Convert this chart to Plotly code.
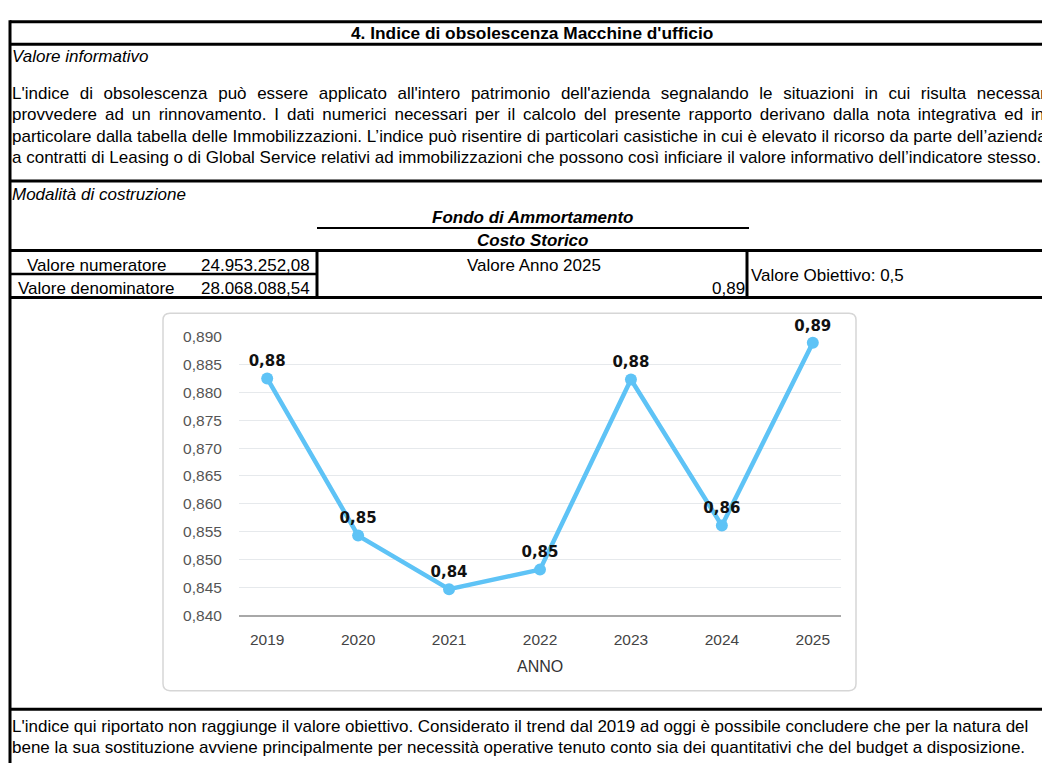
import plotly.graph_objects as go

# dati del grafico
anni = ["2019", "2020", "2021", "2022", "2023", "2024", "2025"]
indice = [0.8825, 0.8543, 0.8447, 0.8482, 0.8823, 0.8561, 0.8889]

titolo = "4. Indice di obsolescenza Macchine d'ufficio"
paragrafo = [
    "L'indice di obsolescenza può essere applicato all'intero patrimonio dell'azienda segnalando le situazioni in cui risulta necessario",
    "provvedere ad un rinnovamento. I dati numerici necessari per il calcolo del presente rapporto derivano dalla nota integrativa ed in",
    "particolare dalla tabella delle Immobilizzazioni. L’indice può risentire di particolari casistiche in cui è elevato il ricorso da parte dell’azienda",
    "a contratti di Leasing o di Global Service relativi ad immobilizzazioni che possono così inficiare il valore informativo dell’indicatore stesso.",
]
spaziatura = [5.9, 3.2, 0.1, 0]
conclusione = [
    "L'indice qui riportato non raggiunge il valore obiettivo. Considerato il trend dal 2019 ad oggi è possibile concludere che per la natura del",
    "bene la sua sostituzione avviene principalmente per necessità operative tenuto conto sia dei quantitativi che del budget a disposizione.",
]
numeratore = "24.953.252,08"
denominatore = "28.068.088,54"
valore_anno = "0,89"
obiettivo = "Valore Obiettivo: 0,5"

W, H = 1042, 771
ARIAL = "Liberation Sans, Arial, sans-serif"
FS = 17


def px(x):
    return x / W


def py(y):
    return 1 - y / H


annotations = []
shapes = []


def txt(s, x, y, anchor="left", size=FS, color="#000", family=ARIAL):
    annotations.append(dict(text=s, x=px(x), y=py(y), xref="paper", yref="paper",
                            xanchor=anchor, yanchor="middle", showarrow=False,
                            font=dict(family=family, size=size, color=color)))


def linea(x0, y0, x1, y1, w=3):
    shapes.append(dict(type="line", xref="paper", yref="paper",
                       x0=px(x0), y0=py(y0), x1=px(x1), y1=py(y1),
                       line=dict(color="#000", width=w)))


# bordi della tabella
linea(10, 13, W, 13)
linea(10, 11.5, 10, H)
linea(10, 36, W, 36)
linea(10, 176, W, 176)
linea(317, 224, 749, 224, 2)
linea(10, 247, W, 247)
linea(10, 271, 317, 271, 2.5)
linea(10, 295, W, 295)
linea(317, 247, 317, 295)
linea(747, 247, 747, 295)
linea(10, 716, W, 716)

# riquadro del grafico con angoli arrotondati
x0, x1, y0, y1, r = 163, 856, 311, 697, 7
rx, ry = r / W, r / H
path = (f"M{px(x0)+rx},{py(y0)} L{px(x1)-rx},{py(y0)} Q{px(x1)},{py(y0)} {px(x1)},{py(y0)-ry} "
        f"L{px(x1)},{py(y1)+ry} Q{px(x1)},{py(y1)} {px(x1)-rx},{py(y1)} "
        f"L{px(x0)+rx},{py(y1)} Q{px(x0)},{py(y1)} {px(x0)},{py(y1)+ry} "
        f"L{px(x0)},{py(y0)-ry} Q{px(x0)},{py(y0)} {px(x0)+rx},{py(y0)} Z")
shapes.append(dict(type="path", xref="paper", yref="paper", path=path, layer="below",
                   fillcolor="#fff", line=dict(color="#d6d6d6", width=1.5)))

# testi
txt("<b>" + titolo + "</b>", 532, 25, "center", size=17.3)
txt("<i>Valore informativo</i>", 10, 49)
for i, (riga, ws) in enumerate(zip(paragrafo, spaziatura)):
    txt(f'<span style="word-spacing:{ws}px">{riga}</span>', 10, 86 + 22 * i)
txt("<i>Modalità di costruzione</i>", 10, 190)
txt("<b><i>Fondo di Ammortamento</i></b>", 532, 213, "center")
txt("<b><i>Costo Storico</i></b>", 532, 237, "center")
txt("Valore numeratore", 97, 262, "center")
txt(numeratore, 312, 262, "right")
txt("Valore denominatore", 96, 286, "center")
txt(denominatore, 312, 286, "right")
txt("Valore Anno 2025", 534, 262, "center")
txt(valore_anno, 747, 286, "right")
txt(obiettivo, 749, 273)
for i, riga in enumerate(conclusione):
    txt(riga, 10, 734 + 21 * i)
txt("ANNO", 540, 672, "center", size=16, color="#333")

fig = go.Figure()
fig.add_trace(go.Scatter(
    x=anni, y=indice, mode="lines+markers+text",
    line=dict(color="#5ec3f6", width=4.5),
    marker=dict(color="#5ec3f6", size=12),
    texttemplate="%{y:.2f}", textposition="top center",
    textfont=dict(family="DejaVu Sans, Verdana, sans-serif", size=15, color="#111", weight="bold"),
    cliponaxis=False, hoverinfo="skip",
))

fig.update_layout(
    width=W, height=H, autosize=False,
    margin=dict(l=0, r=0, t=0, b=0),
    paper_bgcolor="#fff", plot_bgcolor="rgba(0,0,0,0)",
    separators=",.",
    showlegend=False,
    shapes=shapes, annotations=annotations,
    xaxis=dict(domain=[px(239), px(841)], type="category", range=[-0.31, 6.31],
               showgrid=False, showline=True, linecolor="#a8a8a8", linewidth=1.5,
               ticks="outside", ticklen=9, tickcolor="rgba(0,0,0,0)",
               tickfont=dict(family=ARIAL, size=15.5, color="#444"), fixedrange=True),
    yaxis=dict(domain=[py(620), py(335)], range=[0.840, 0.890], dtick=0.005,
               tickformat=".3f", showgrid=True, gridcolor="#e6e9ec", gridwidth=1,
               zeroline=False, showline=False,
               ticks="outside", ticklen=13, tickcolor="rgba(0,0,0,0)",
               tickfont=dict(family=ARIAL, size=15.5, color="#555"), fixedrange=True),
)

fig.write_html("out.html", config={"displayModeBar": False},
               post_script="document.body.style.margin='0';document.body.style.overflow='hidden';")
